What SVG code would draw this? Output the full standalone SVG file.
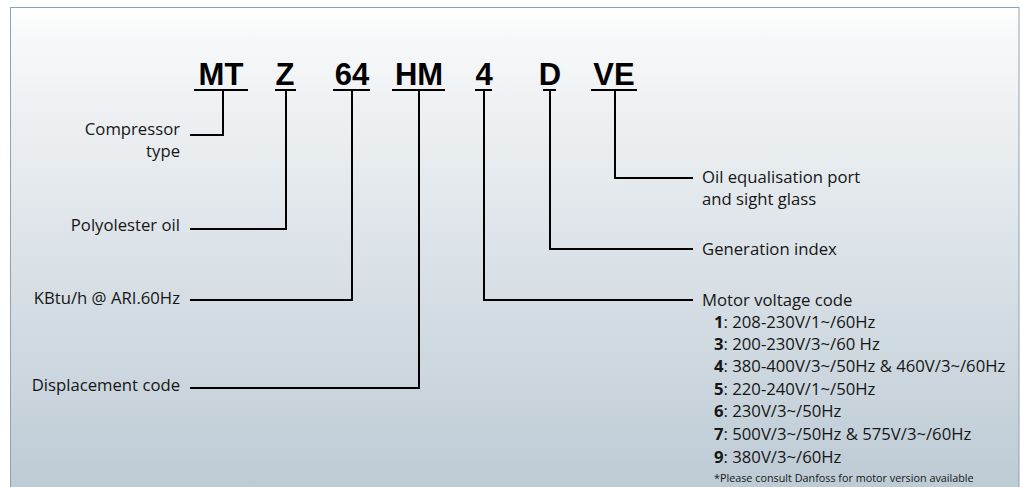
<svg xmlns="http://www.w3.org/2000/svg" width="1035" height="487" viewBox="0 0 1035 487">
<defs>
<linearGradient id="bg" x1="0" y1="0" x2="0" y2="1">
<stop offset="0" stop-color="#ffffff"/>
<stop offset="0.06" stop-color="#f7f8f9"/>
<stop offset="1" stop-color="#bccad4"/>
</linearGradient>
<style>
.code{font-family:"Liberation Sans",Arial,sans-serif;font-weight:bold;font-size:31px;fill:#000}
.lbl{font-family:"Open Sans","Noto Sans",sans-serif;font-size:16.7px;fill:#161616}
.b{font-weight:bold}
.note{font-family:"Open Sans","Noto Sans",sans-serif;font-size:10.8px;fill:#161616}
.ln{stroke:#000;stroke-width:2;fill:none}
</style>
</defs>
<rect x="0" y="0" width="1035" height="487" fill="#ffffff"/>
<rect x="10.5" y="7.5" width="1008.5" height="490" fill="url(#bg)" stroke="#8ea2b2" stroke-width="1"/>
<g id="codes">
<g id="n-mt"><text class="code" x="221" y="85" text-anchor="middle">MT</text><line class="ln" x1="194" y1="90" x2="248" y2="90"/></g>
<g id="n-z"><text class="code" x="285" y="85" text-anchor="middle">Z</text><line class="ln" x1="275" y1="90" x2="296" y2="90"/></g>
<g id="n-64"><text class="code" x="352" y="85" text-anchor="middle">64</text><line class="ln" x1="333" y1="90" x2="370" y2="90"/></g>
<g id="n-hm"><text class="code" x="419" y="85" text-anchor="middle">HM</text><line class="ln" x1="392" y1="90" x2="445" y2="90"/></g>
<g id="n-4"><text class="code" x="484" y="85" text-anchor="middle">4</text><line class="ln" x1="475" y1="90" x2="492" y2="90"/></g>
<g id="n-d"><text class="code" x="550" y="85" text-anchor="middle">D</text><line class="ln" x1="543" y1="90" x2="556" y2="90"/></g>
<g id="n-ve"><text class="code" x="614" y="85" text-anchor="middle">VE</text><line class="ln" x1="591" y1="90" x2="637" y2="90"/></g>
</g>
<g id="labels">
<g id="l-comp"><text class="lbl" x="180" y="135" text-anchor="end">Compressor</text><text class="lbl" x="180" y="157" text-anchor="end">type</text></g>
<g id="l-poly"><text class="lbl" x="180" y="231" text-anchor="end">Polyolester oil</text></g>
<g id="l-kbtu"><text class="lbl" x="180" y="304" text-anchor="end">KBtu/h @ ARI.60Hz</text></g>
<g id="l-disp"><text class="lbl" x="180" y="391" text-anchor="end">Displacement code</text></g>
<g id="l-oil"><text class="lbl" x="702" y="183">Oil equalisation port</text><text class="lbl" x="702" y="205">and sight glass</text></g>
<g id="l-gen"><text class="lbl" x="702" y="255">Generation index</text></g>
<g id="l-motor">
<text class="lbl" x="702" y="306">Motor voltage code</text>
<text class="lbl" x="714" y="328"><tspan class="b">1</tspan>: 208-230V/1~/60Hz</text>
<text class="lbl" x="714" y="350"><tspan class="b">3</tspan>: 200-230V/3~/60 Hz</text>
<text class="lbl" x="714" y="372"><tspan class="b">4</tspan>: 380-400V/3~/50Hz &amp; 460V/3~/60Hz</text>
<text class="lbl" x="714" y="395"><tspan class="b">5</tspan>: 220-240V/1~/50Hz</text>
<text class="lbl" x="714" y="417"><tspan class="b">6</tspan>: 230V/3~/50Hz</text>
<text class="lbl" x="714" y="440"><tspan class="b">7</tspan>: 500V/3~/50Hz &amp; 575V/3~/60Hz</text>
<text class="lbl" x="714" y="463"><tspan class="b">9</tspan>: 380V/3~/60Hz</text>
<text class="note" x="714" y="482">*Please consult Danfoss for motor version available</text>
</g>
</g>
<g id="connectors">
<polyline class="ln" points="223,90 223,135 190,135"/>
<polyline class="ln" points="286,90 286,229 190,229"/>
<polyline class="ln" points="352,90 352,300 190,300"/>
<polyline class="ln" points="419,90 419,388 190,388"/>
<polyline class="ln" points="484,90 484,300 693,300"/>
<polyline class="ln" points="550,90 550,249 693,249"/>
<polyline class="ln" points="615,90 615,178 693,178"/>
</g>
</svg>
